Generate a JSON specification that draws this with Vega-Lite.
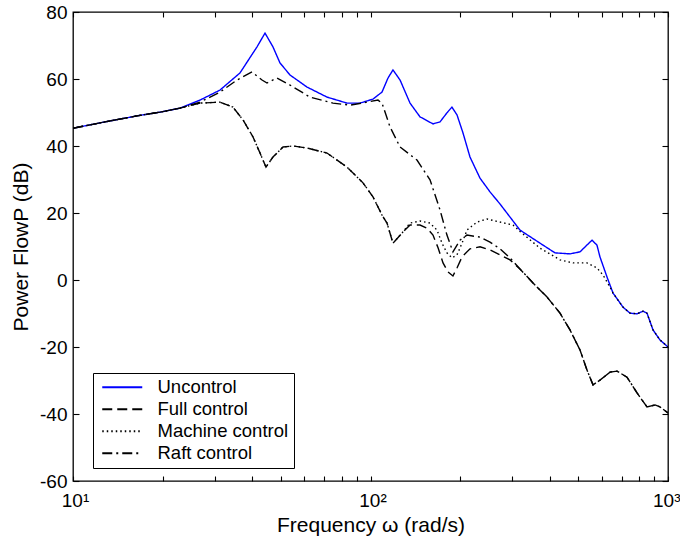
{
  "$schema": "https://vega.github.io/schema/vega-lite/v6.json",
  "width": 595,
  "height": 469,
  "autosize": {"type": "none"},
  "padding": {"left": 73, "top": 12, "right": 12, "bottom": 57},
  "background": "white",
  "config": {
    "font": "Liberation Sans",
    "view": {"stroke": "black", "strokeWidth": 1.3},
    "axis": {
      "domain": false, "ticks": true, "tickColor": "black", "tickWidth": 1.1, "tickOpacity": 1,
      "labelColor": "black", "titleColor": "black", "grid": false,
      "labelFontSize": 19, "titleFontSize": 21, "titleFontWeight": "normal", "labelFont": "Liberation Sans", "titleFont": "Liberation Sans"
    },
    "legend": {
      "orient": "none", "legendX": 20, "legendY": 361,
      "strokeColor": "black", "fillColor": "white", "padding": 5,
      "labelFontSize": 18.5, "labelColor": "black", "labelFont": "Liberation Sans",
      "symbolType": "M-1,0H7", "symbolSize": 100, "symbolStrokeWidth": 2.2,
      "rowPadding": 3, "labelOffset": 41, "labelLimit": 0, "cornerRadius": 0
    }
  },
  "data": {"values": [
    {"s": "Uncontrol", "f": 10, "p": 45.3},
    {"s": "Uncontrol", "f": 12.32, "p": 46.9},
    {"s": "Uncontrol", "f": 16.41, "p": 49.0},
    {"s": "Uncontrol", "f": 19.61, "p": 50.1},
    {"s": "Uncontrol", "f": 22.89, "p": 51.3},
    {"s": "Uncontrol", "f": 26.72, "p": 53.7},
    {"s": "Uncontrol", "f": 31.2, "p": 56.7},
    {"s": "Uncontrol", "f": 36.41, "p": 61.8},
    {"s": "Uncontrol", "f": 41.55, "p": 69.6},
    {"s": "Uncontrol", "f": 44.2, "p": 73.7},
    {"s": "Uncontrol", "f": 47.0, "p": 69.6},
    {"s": "Uncontrol", "f": 49.63, "p": 64.8},
    {"s": "Uncontrol", "f": 53.62, "p": 61.2},
    {"s": "Uncontrol", "f": 61.16, "p": 57.6},
    {"s": "Uncontrol", "f": 71.42, "p": 54.6},
    {"s": "Uncontrol", "f": 83.37, "p": 52.8},
    {"s": "Uncontrol", "f": 92.19, "p": 52.8},
    {"s": "Uncontrol", "f": 101.95, "p": 54.0},
    {"s": "Uncontrol", "f": 109.32, "p": 56.1},
    {"s": "Uncontrol", "f": 114.5, "p": 60.3},
    {"s": "Uncontrol", "f": 119.0, "p": 62.7},
    {"s": "Uncontrol", "f": 125.7, "p": 59.7},
    {"s": "Uncontrol", "f": 135.8, "p": 52.8},
    {"s": "Uncontrol", "f": 146.7, "p": 48.7},
    {"s": "Uncontrol", "f": 162.2, "p": 46.6},
    {"s": "Uncontrol", "f": 171.3, "p": 47.2},
    {"s": "Uncontrol", "f": 180.7, "p": 49.9},
    {"s": "Uncontrol", "f": 187.8, "p": 51.6},
    {"s": "Uncontrol", "f": 195.3, "p": 49.3},
    {"s": "Uncontrol", "f": 204.6, "p": 43.9},
    {"s": "Uncontrol", "f": 216.0, "p": 36.7},
    {"s": "Uncontrol", "f": 233.4, "p": 30.4},
    {"s": "Uncontrol", "f": 252.2, "p": 26.3},
    {"s": "Uncontrol", "f": 272.4, "p": 22.7},
    {"s": "Uncontrol", "f": 318.0, "p": 14.9},
    {"s": "Uncontrol", "f": 371.3, "p": 11.0},
    {"s": "Uncontrol", "f": 417.0, "p": 8.1},
    {"s": "Uncontrol", "f": 468.4, "p": 7.8},
    {"s": "Uncontrol", "f": 506.1, "p": 8.4},
    {"s": "Uncontrol", "f": 555.4, "p": 11.9},
    {"s": "Uncontrol", "f": 577.1, "p": 10.4},
    {"s": "Uncontrol", "f": 590.6, "p": 6.9},
    {"s": "Uncontrol", "f": 623.7, "p": 0.9},
    {"s": "Uncontrol", "f": 653.4, "p": -3.9},
    {"s": "Uncontrol", "f": 705.9, "p": -8.1},
    {"s": "Uncontrol", "f": 745.4, "p": -9.9},
    {"s": "Uncontrol", "f": 786.9, "p": -10.1},
    {"s": "Uncontrol", "f": 824.1, "p": -9.3},
    {"s": "Uncontrol", "f": 850.0, "p": -9.9},
    {"s": "Uncontrol", "f": 890.5, "p": -14.9},
    {"s": "Uncontrol", "f": 940.0, "p": -17.9},
    {"s": "Uncontrol", "f": 1000, "p": -20.0},

    {"s": "Full control", "f": 10, "p": 45.3},
    {"s": "Full control", "f": 12.32, "p": 46.9},
    {"s": "Full control", "f": 16.41, "p": 49.0},
    {"s": "Full control", "f": 19.61, "p": 50.1},
    {"s": "Full control", "f": 22.89, "p": 51.3},
    {"s": "Full control", "f": 26.72, "p": 52.8},
    {"s": "Full control", "f": 31.2, "p": 53.1},
    {"s": "Full control", "f": 34.5, "p": 51.6},
    {"s": "Full control", "f": 37.27, "p": 47.8},
    {"s": "Full control", "f": 40.28, "p": 42.7},
    {"s": "Full control", "f": 42.52, "p": 37.9},
    {"s": "Full control", "f": 44.54, "p": 33.7},
    {"s": "Full control", "f": 47.0, "p": 36.7},
    {"s": "Full control", "f": 50.8, "p": 39.7},
    {"s": "Full control", "f": 54.89, "p": 40.0},
    {"s": "Full control", "f": 61.16, "p": 39.4},
    {"s": "Full control", "f": 71.42, "p": 37.9},
    {"s": "Full control", "f": 83.37, "p": 33.7},
    {"s": "Full control", "f": 94.36, "p": 29.0},
    {"s": "Full control", "f": 101.95, "p": 24.8},
    {"s": "Full control", "f": 109.32, "p": 19.4},
    {"s": "Full control", "f": 113.62, "p": 17.0},
    {"s": "Full control", "f": 119.0, "p": 11.0},
    {"s": "Full control", "f": 127.6, "p": 14.0},
    {"s": "Full control", "f": 135.8, "p": 16.4},
    {"s": "Full control", "f": 146.7, "p": 16.4},
    {"s": "Full control", "f": 154.8, "p": 15.5},
    {"s": "Full control", "f": 162.2, "p": 13.4},
    {"s": "Full control", "f": 168.7, "p": 9.6},
    {"s": "Full control", "f": 175.3, "p": 5.1},
    {"s": "Full control", "f": 182.2, "p": 2.4},
    {"s": "Full control", "f": 189.3, "p": 1.2},
    {"s": "Full control", "f": 195.3, "p": 3.6},
    {"s": "Full control", "f": 203.1, "p": 6.9},
    {"s": "Full control", "f": 216.0, "p": 9.3},
    {"s": "Full control", "f": 233.4, "p": 9.9},
    {"s": "Full control", "f": 252.2, "p": 9.0},
    {"s": "Full control", "f": 272.4, "p": 7.5},
    {"s": "Full control", "f": 294.4, "p": 6.0},
    {"s": "Full control", "f": 318.0, "p": 3.3},
    {"s": "Full control", "f": 351.8, "p": -0.9},
    {"s": "Full control", "f": 392.1, "p": -5.1},
    {"s": "Full control", "f": 433.5, "p": -9.9},
    {"s": "Full control", "f": 468.4, "p": -14.9},
    {"s": "Full control", "f": 506.1, "p": -20.9},
    {"s": "Full control", "f": 534.2, "p": -26.9},
    {"s": "Full control", "f": 559.7, "p": -31.3},
    {"s": "Full control", "f": 590.6, "p": -29.9},
    {"s": "Full control", "f": 638.3, "p": -27.5},
    {"s": "Full control", "f": 674.0, "p": -27.2},
    {"s": "Full control", "f": 728.0, "p": -29.0},
    {"s": "Full control", "f": 786.9, "p": -33.7},
    {"s": "Full control", "f": 850.0, "p": -37.9},
    {"s": "Full control", "f": 904.4, "p": -37.3},
    {"s": "Full control", "f": 940.0, "p": -37.9},
    {"s": "Full control", "f": 1000, "p": -39.7},

    {"s": "Machine control", "f": 10, "p": 45.3},
    {"s": "Machine control", "f": 12.32, "p": 46.9},
    {"s": "Machine control", "f": 16.41, "p": 49.0},
    {"s": "Machine control", "f": 19.61, "p": 50.1},
    {"s": "Machine control", "f": 22.89, "p": 51.3},
    {"s": "Machine control", "f": 26.72, "p": 52.8},
    {"s": "Machine control", "f": 31.2, "p": 53.1},
    {"s": "Machine control", "f": 34.5, "p": 51.6},
    {"s": "Machine control", "f": 37.27, "p": 47.8},
    {"s": "Machine control", "f": 40.28, "p": 42.7},
    {"s": "Machine control", "f": 42.52, "p": 37.9},
    {"s": "Machine control", "f": 44.54, "p": 33.7},
    {"s": "Machine control", "f": 47.0, "p": 36.7},
    {"s": "Machine control", "f": 50.8, "p": 39.7},
    {"s": "Machine control", "f": 54.89, "p": 40.0},
    {"s": "Machine control", "f": 61.16, "p": 39.4},
    {"s": "Machine control", "f": 71.42, "p": 37.9},
    {"s": "Machine control", "f": 83.37, "p": 33.7},
    {"s": "Machine control", "f": 94.36, "p": 29.0},
    {"s": "Machine control", "f": 101.95, "p": 24.8},
    {"s": "Machine control", "f": 109.32, "p": 19.4},
    {"s": "Machine control", "f": 113.62, "p": 17.0},
    {"s": "Machine control", "f": 119.0, "p": 11.0},
    {"s": "Machine control", "f": 127.6, "p": 14.0},
    {"s": "Machine control", "f": 135.8, "p": 17.0},
    {"s": "Machine control", "f": 146.7, "p": 17.6},
    {"s": "Machine control", "f": 158.5, "p": 17.0},
    {"s": "Machine control", "f": 167.3, "p": 14.9},
    {"s": "Machine control", "f": 173.9, "p": 11.0},
    {"s": "Machine control", "f": 180.7, "p": 8.1},
    {"s": "Machine control", "f": 187.8, "p": 6.6},
    {"s": "Machine control", "f": 195.3, "p": 7.5},
    {"s": "Machine control", "f": 203.1, "p": 11.0},
    {"s": "Machine control", "f": 211.0, "p": 14.9},
    {"s": "Machine control", "f": 228.0, "p": 17.3},
    {"s": "Machine control", "f": 246.4, "p": 18.2},
    {"s": "Machine control", "f": 272.4, "p": 17.3},
    {"s": "Machine control", "f": 301.3, "p": 16.4},
    {"s": "Machine control", "f": 318.0, "p": 14.5},
    {"s": "Machine control", "f": 371.3, "p": 9.5},
    {"s": "Machine control", "f": 433.5, "p": 6.0},
    {"s": "Machine control", "f": 479.4, "p": 5.1},
    {"s": "Machine control", "f": 534.2, "p": 5.1},
    {"s": "Machine control", "f": 577.1, "p": 3.6},
    {"s": "Machine control", "f": 604.5, "p": 1.5},
    {"s": "Machine control", "f": 638.3, "p": -2.1},
    {"s": "Machine control", "f": 653.4, "p": -3.9},
    {"s": "Machine control", "f": 705.9, "p": -8.1},
    {"s": "Machine control", "f": 745.4, "p": -9.9},
    {"s": "Machine control", "f": 786.9, "p": -10.1},
    {"s": "Machine control", "f": 824.1, "p": -9.3},
    {"s": "Machine control", "f": 850.0, "p": -9.9},
    {"s": "Machine control", "f": 890.5, "p": -14.9},
    {"s": "Machine control", "f": 940.0, "p": -17.9},
    {"s": "Machine control", "f": 1000, "p": -20.0},

    {"s": "Raft control", "f": 10, "p": 45.3},
    {"s": "Raft control", "f": 12.32, "p": 46.9},
    {"s": "Raft control", "f": 16.41, "p": 49.0},
    {"s": "Raft control", "f": 19.61, "p": 50.1},
    {"s": "Raft control", "f": 22.89, "p": 51.3},
    {"s": "Raft control", "f": 26.72, "p": 53.1},
    {"s": "Raft control", "f": 31.2, "p": 56.1},
    {"s": "Raft control", "f": 35.58, "p": 59.7},
    {"s": "Raft control", "f": 39.97, "p": 62.1},
    {"s": "Raft control", "f": 43.19, "p": 59.7},
    {"s": "Raft control", "f": 44.89, "p": 58.8},
    {"s": "Raft control", "f": 48.49, "p": 60.3},
    {"s": "Raft control", "f": 53.62, "p": 58.2},
    {"s": "Raft control", "f": 62.6, "p": 54.6},
    {"s": "Raft control", "f": 74.8, "p": 52.8},
    {"s": "Raft control", "f": 85.33, "p": 52.2},
    {"s": "Raft control", "f": 97.32, "p": 53.1},
    {"s": "Raft control", "f": 105.97, "p": 53.7},
    {"s": "Raft control", "f": 109.32, "p": 52.8},
    {"s": "Raft control", "f": 116.3, "p": 45.7},
    {"s": "Raft control", "f": 125.7, "p": 39.7},
    {"s": "Raft control", "f": 143.3, "p": 35.8},
    {"s": "Raft control", "f": 158.5, "p": 29.9},
    {"s": "Raft control", "f": 171.3, "p": 20.9},
    {"s": "Raft control", "f": 180.7, "p": 13.4},
    {"s": "Raft control", "f": 189.3, "p": 8.4},
    {"s": "Raft control", "f": 199.9, "p": 11.9},
    {"s": "Raft control", "f": 211.0, "p": 13.4},
    {"s": "Raft control", "f": 233.4, "p": 12.8},
    {"s": "Raft control", "f": 252.2, "p": 11.3},
    {"s": "Raft control", "f": 272.4, "p": 9.3},
    {"s": "Raft control", "f": 294.4, "p": 6.6},
    {"s": "Raft control", "f": 318.0, "p": 3.3},
    {"s": "Raft control", "f": 351.8, "p": -0.9},
    {"s": "Raft control", "f": 392.1, "p": -5.1},
    {"s": "Raft control", "f": 433.5, "p": -9.9},
    {"s": "Raft control", "f": 468.4, "p": -14.9},
    {"s": "Raft control", "f": 506.1, "p": -20.9},
    {"s": "Raft control", "f": 534.2, "p": -26.9},
    {"s": "Raft control", "f": 559.7, "p": -31.3},
    {"s": "Raft control", "f": 590.6, "p": -29.9},
    {"s": "Raft control", "f": 638.3, "p": -27.5},
    {"s": "Raft control", "f": 674.0, "p": -27.2},
    {"s": "Raft control", "f": 728.0, "p": -29.0},
    {"s": "Raft control", "f": 786.9, "p": -33.7},
    {"s": "Raft control", "f": 850.0, "p": -37.9},
    {"s": "Raft control", "f": 904.4, "p": -37.3},
    {"s": "Raft control", "f": 940.0, "p": -37.9},
    {"s": "Raft control", "f": 1000, "p": -39.7}
  ]},
  "layer": [
    {
      "mark": {"type": "line", "strokeWidth": 1.4, "clip": true},
      "encoding": {
        "x": {
          "field": "f", "type": "quantitative",
          "scale": {"type": "log", "domain": [10, 1000]},
          "axis": {
            "orient": "bottom",
            "values": [10, 20, 30, 40, 50, 60, 70, 80, 90, 100, 200, 300, 400, 500, 600, 700, 800, 900, 1000],
            "tickSize": -5, "labelPadding": 15,
            "labelExpr": "datum.value == 10 ? '10¹' : datum.value == 100 ? '10²' : datum.value == 1000 ? '10³' : ''",
            "labelAlign": {"condition": {"test": "datum.value == 1000", "value": "right"}, "value": "center"},
            "labelOffset": {"condition": {"test": "datum.value == 1000", "value": 12}, "value": 2},
            "labelFlush": false, "labelOverlap": false,
            "title": "Frequency ω (rad/s)", "titlePadding": 4
          }
        },
        "y": {
          "field": "p", "type": "quantitative",
          "scale": {"domain": [-60, 80], "nice": false, "zero": false},
          "axis": {
            "orient": "left",
            "values": [-60, -40, -20, 0, 20, 40, 60, 80],
            "tickSize": -6, "labelPadding": 12,
            "labelExpr": "'' + datum.value", "labelFlush": false, "labelOverlap": false,
            "title": "Power FlowP (dB)", "titlePadding": 8
          }
        },
        "color": {
          "field": "s", "type": "nominal",
          "scale": {"domain": ["Uncontrol", "Full control", "Machine control", "Raft control"], "range": ["#0000ff", "#000000", "#000000", "#000000"]},
          "legend": {"title": null}
        },
        "strokeDash": {
          "field": "s", "type": "nominal",
          "scale": {"domain": ["Uncontrol", "Full control", "Machine control", "Raft control"], "range": [[1, 0], [10, 5], [1.5, 3], [10, 4, 2, 4]]},
          "legend": {"title": null}
        }
      }
    },
    {
      "mark": {"type": "line", "opacity": 0},
      "encoding": {
        "x": {
          "field": "f", "type": "quantitative",
          "axis": {
            "orient": "top",
            "values": [10, 20, 30, 40, 50, 60, 70, 80, 90, 100, 200, 300, 400, 500, 600, 700, 800, 900, 1000],
            "tickSize": -5, "labels": false, "title": null
          }
        },
        "y": {
          "field": "p", "type": "quantitative",
          "axis": {
            "orient": "right",
            "values": [-60, -40, -20, 0, 20, 40, 60, 80],
            "tickSize": -6, "labels": false, "title": null
          }
        },
        "detail": {"field": "s", "type": "nominal"}
      }
    }
  ],
  "resolve": {"axis": {"x": "independent", "y": "independent"}}
}
